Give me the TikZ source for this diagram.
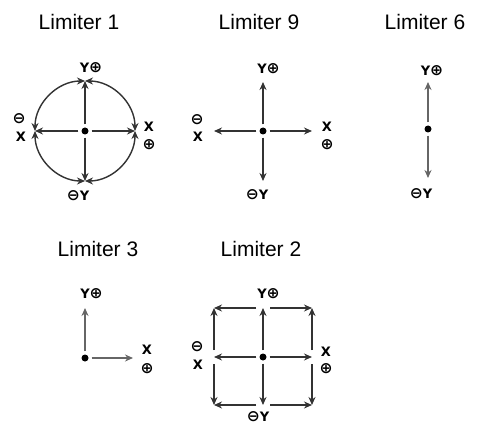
\documentclass[tikz,border=0pt]{standalone}
\usepackage{fontspec}
\setmainfont{Liberation Sans}
\newfontfamily\labfont{DejaVu Sans}
\usetikzlibrary{arrows.meta}
\newcommand\myopl{{\labfont\bfseries\fontsize{15.5}{14}\selectfont ⊕}}
\newcommand\myomi{{\labfont\bfseries\fontsize{15.5}{14}\selectfont ⊖}}
\tikzset{
  ttl/.style={font=\fontsize{21}{24}\selectfont, anchor=base, inner sep=0pt},
  lbl/.style={font=\labfont\bfseries\fontsize{13}{14}\selectfont, inner sep=0pt},
  dotnode/.style={circle, fill=black, inner sep=0pt, minimum size=7pt},
  tipstyle/.style={-{Stealth[length=8pt,width=7pt]}},
  ax/.style={draw=black!80, line width=1.4pt, tipstyle, shorten <=3pt},
  axl/.style={draw=black!60, line width=1.4pt, tipstyle, shorten <=3pt},
  arcs/.style={draw=black!80, line width=1.4pt, {Stealth[length=8pt,width=7pt]}-{Stealth[length=8pt,width=7pt]}},
  edge/.style={draw=black!80, line width=1.4pt, tipstyle, shorten <=7pt},
}
\begin{document}
\begin{tikzpicture}[x=1pt,y=-1pt]
\useasboundingbox[fill=white] (0,0) rectangle (482,425);

% titles
\node[ttl] (t1) at (79,29.5) {Limiter 1};
\node[ttl] (t9) at (259,29.5) {Limiter 9};
\node[ttl] (t6) at (425,29.5) {Limiter 6};
\node[ttl] (t3) at (98,256.5) {Limiter 3};
\node[ttl] (t2) at (261,256.5) {Limiter 2};

% ---------- Limiter 1
\node[dotnode] (c1) at (85,131) {};
\coordinate (c1n) at (85,81);
\coordinate (c1s) at (85,181);
\coordinate (c1w) at (35,131);
\coordinate (c1e) at (135,131);
\draw[ax] (c1) -- (c1n);
\draw[ax] (c1) -- (c1s);
\draw[ax] (c1) -- (c1w);
\draw[ax] (c1) -- (c1e);
\draw[arcs] (c1e) arc[start angle=0,end angle=90,radius=50pt];
\draw[arcs] (c1n) arc[start angle=90,end angle=180,radius=50pt];
\draw[arcs] (c1w) arc[start angle=180,end angle=270,radius=50pt];
\draw[arcs] (c1s) arc[start angle=270,end angle=360,radius=50pt];
\node[lbl] (l1n) at (91,68) {Y\myopl};
\node[lbl] (l1s) at (78,195.5) {\myomi Y};
\node[lbl] (l1wa) at (19,118.5) {\myomi};
\node[lbl] (l1wb) at (21,137) {X};
\node[lbl] (l1ea) at (149,127) {X};
\node[lbl] (l1eb) at (149,145) {\myopl};

% ---------- Limiter 9
\node[dotnode] (c9) at (263,131) {};
\coordinate (c9n) at (263,82);
\coordinate (c9s) at (263,181);
\coordinate (c9w) at (214,131);
\coordinate (c9e) at (312,131);
\draw[ax] (c9) -- (c9n);
\draw[ax] (c9) -- (c9s);
\draw[ax] (c9) -- (c9w);
\draw[ax] (c9) -- (c9e);
\node[lbl] (l9n) at (268.5,69) {Y\myopl};
\node[lbl] (l9s) at (257,195) {\myomi Y};
\node[lbl] (l9wa) at (197,120) {\myomi};
\node[lbl] (l9wb) at (198,137) {X};
\node[lbl] (l9ea) at (327,127) {X};
\node[lbl] (l9eb) at (327,145) {\myopl};

% ---------- Limiter 6
\node[dotnode] (c6) at (428,129) {};
\coordinate (c6n) at (428,82);
\coordinate (c6s) at (428,178);
\draw[axl] (c6) -- (c6n);
\draw[axl] (c6) -- (c6s);
\node[lbl] (l6n) at (432,70.5) {Y\myopl};
\node[lbl] (l6s) at (421,194) {\myomi Y};

% ---------- Limiter 3
\node[dotnode] (c3) at (85,358) {};
\coordinate (c3n) at (85,308);
\coordinate (c3e) at (133,358);
\draw[axl] (c3) -- (c3n);
\draw[axl] (c3) -- (c3e);
\node[lbl] (l3n) at (91.5,294) {Y\myopl};
\node[lbl] (l3ea) at (147,350) {X};
\node[lbl] (l3eb) at (147,369) {\myopl};

% ---------- Limiter 2
\node[dotnode] (c2) at (263,357) {};
\coordinate (c2n) at (263,308);
\coordinate (c2s) at (263,405);
\coordinate (c2w) at (214,357);
\coordinate (c2e) at (312,357);
\coordinate (c2nw) at (214,308);
\coordinate (c2ne) at (312,308);
\coordinate (c2sw) at (214,405);
\coordinate (c2se) at (312,405);
\draw[ax] (c2) -- (c2n);
\draw[ax] (c2) -- (c2s);
\draw[ax] (c2) -- (c2w);
\draw[ax] (c2) -- (c2e);
\draw[edge] (c2n) -- (c2nw);
\draw[edge] (c2n) -- (c2ne);
\draw[edge] (c2s) -- (c2sw);
\draw[edge] (c2s) -- (c2se);
\draw[edge] (c2w) -- (c2nw);
\draw[edge] (c2w) -- (c2sw);
\draw[edge] (c2e) -- (c2ne);
\draw[edge] (c2e) -- (c2se);
\node[lbl] (l2n) at (268.5,293.5) {Y\myopl};
\node[lbl] (l2s) at (258,417) {\myomi Y};
\node[lbl] (l2wa) at (197,347) {\myomi};
\node[lbl] (l2wb) at (198,365) {X};
\node[lbl] (l2ea) at (326,352) {X};
\node[lbl] (l2eb) at (326,369) {\myopl};
\end{tikzpicture}
\end{document}
